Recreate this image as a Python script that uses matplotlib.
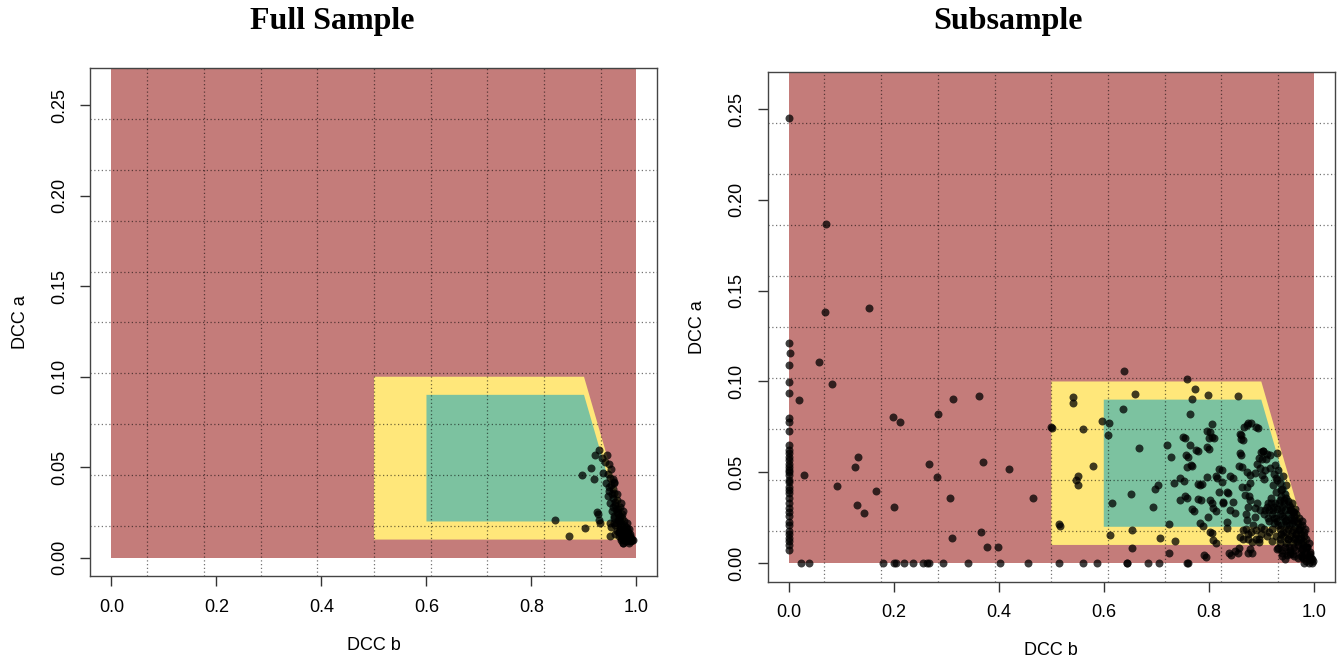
import matplotlib
matplotlib.use("Agg")
import matplotlib.pyplot as plt
from matplotlib.patches import Polygon

# admissible regions for the DCC (b, a) parameters
red_region = [(0.0, 0.0), (1.0, 0.0), (1.0, 0.3), (0.0, 0.3)]
yellow_region = [(0.5, 0.01), (0.99, 0.01), (0.9, 0.1), (0.5, 0.1)]
green_region = [(0.6, 0.02), (0.97, 0.02), (0.9, 0.09), (0.6, 0.09)]

x_ticks = [0.0, 0.2, 0.4, 0.6, 0.8, 1.0]
y_ticks = [0.0, 0.05, 0.10, 0.15, 0.20, 0.25]
x_range = (0.0, 1.0)
y_range = (0.0, 0.26)

# full sample estimates
full_b = [0.921, 0.929, 0.943, 0.948, 0.9135, 0.897, 0.920, 0.937, 0.924, 0.929,
          0.901, 0.872, 0.950, 0.950, 0.8455, 0.955, 0.957, 0.927, 0.931,
          0.945, 0.950, 0.942, 0.952, 0.948, 0.958, 0.946, 0.955, 0.963, 0.950,
          0.960, 0.968, 0.953, 0.962, 0.972, 0.957, 0.966, 0.976, 0.960, 0.970,
          0.980, 0.963, 0.973, 0.983, 0.967, 0.977, 0.986, 0.970, 0.980, 0.990,
          0.975, 0.985, 0.993, 0.988, 0.978, 0.968, 0.958, 0.965, 0.955, 0.973,
          0.982, 0.990, 0.960, 0.952, 0.985, 0.975, 0.970, 0.962, 0.957, 0.981,
          0.987, 0.972, 0.967, 0.979, 0.984, 0.976, 0.969, 0.940, 0.934, 0.951,
          0.947, 0.953, 0.959, 0.956, 0.961, 0.965, 0.958, 0.964, 0.969, 0.962,
          0.968, 0.974, 0.966, 0.972, 0.978, 0.971, 0.976, 0.982, 0.974, 0.980,
          0.986, 0.979, 0.984, 0.991, 0.982, 0.988]
full_a = [0.0568, 0.0595, 0.0568, 0.0518, 0.0494, 0.0457, 0.0433, 0.0466, 0.0254, 0.0208,
          0.0163, 0.0120, 0.0190, 0.0120, 0.0210, 0.0437, 0.0410, 0.0240, 0.0193,
          0.046, 0.044, 0.041, 0.040, 0.037, 0.036, 0.034, 0.033, 0.032, 0.030,
          0.029, 0.028, 0.026, 0.025, 0.024, 0.022, 0.021, 0.020, 0.018, 0.018,
          0.017, 0.015, 0.015, 0.014, 0.012, 0.012, 0.011, 0.010, 0.009, 0.009,
          0.008, 0.008, 0.010, 0.012, 0.010, 0.016, 0.019, 0.027, 0.038, 0.022,
          0.019, 0.011, 0.013, 0.017, 0.016, 0.026, 0.030, 0.035, 0.042, 0.013,
          0.010, 0.012, 0.014, 0.015, 0.012, 0.018, 0.023, 0.053, 0.055, 0.049,
          0.039, 0.035, 0.031, 0.028, 0.027, 0.024, 0.023, 0.021, 0.020, 0.019,
          0.017, 0.016, 0.014, 0.013, 0.013, 0.011, 0.010, 0.010, 0.008, 0.011,
          0.009, 0.014, 0.011, 0.010, 0.016, 0.013]

# subsample: estimates stuck at b = 0
sub_edge_a = [0.121, 0.109, 0.0999, 0.0938, 0.0797, 0.0779, 0.0729, 0.065, 0.0605,
              0.0586, 0.0548, 0.0531, 0.0503, 0.0485, 0.0448, 0.0403, 0.0385, 0.0357,
              0.0302, 0.0284, 0.0228, 0.0209, 0.0179, 0.016, 0.0123, 0.0072, 0.062,
              0.057, 0.051, 0.046, 0.042, 0.033, 0.026, 0.014, 0.010]
# subsample: estimates stuck at a = 0
sub_floor_b = [0.0237, 0.0383, 0.179, 0.2013, 0.204, 0.2187, 0.2375, 0.2556, 0.264,
               0.2667, 0.2946, 0.3405, 0.403, 0.455, 0.514, 0.56, 0.587, 0.6435,
               0.6445, 0.6845, 0.706, 0.7598, 0.982, 0.990, 0.996]
# subsample: interior estimates
sub_b = [0.0, 0.0711, 0.069, 0.152, 0.058, 0.0825, 0.0196, 0.0025, 0.0285, 0.0926,
         0.1257, 0.131, 0.1295, 0.1434, 0.167, 0.198, 0.2126, 0.2006, 0.2844, 0.3124,
         0.363, 0.4996, 0.2678, 0.3695, 0.419, 0.282, 0.3072, 0.466, 0.3657, 0.3105,
         0.3777, 0.3993, 0.514,
         0.639, 0.758, 0.7745, 0.798, 0.855, 0.6587, 0.5415, 0.5415, 0.768, 0.6368,
         0.7648, 0.5015, 0.5613, 0.5968, 0.6097, 0.6078, 0.6663, 0.579, 0.551, 0.5473,
         0.5518, 0.5158, 0.6149, 0.6528, 0.6933, 0.611, 0.6547, 0.6547, 0.7069, 0.7364,
         0.7242, 0.7943, 0.8067, 0.813, 0.842, 0.856, 0.882, 0.8646, 0.8825, 0.8947,
         0.725, 0.704, 0.697, 0.733, 0.7198, 0.7288, 0.755, 0.7602, 0.780, 0.800,
         0.768, 0.753, 0.7448, 0.7583, 0.7712, 0.785, 0.7886, 0.8067, 0.814, 0.800,
         0.8015, 0.809, 0.807, 0.784, 0.7957, 0.816, 0.8253, 0.8375, 0.8265, 0.8497,
         0.8356, 0.8356, 0.847, 0.862, 0.865, 0.862, 0.863, 0.872, 0.8806, 0.8935,
         0.8787, 0.872, 0.877, 0.871, 0.888, 0.904, 0.910, 0.901, 0.8967, 0.905,
         0.796, 0.8057, 0.7516, 0.867, 0.8755, 0.890, 0.8597, 0.861, 0.7568, 0.7758,
         0.7657, 0.796, 0.860, 0.8583, 0.8996, 0.904, 0.8952, 0.8926, 0.9092, 0.9168,
         0.9295, 0.9263, 0.9168, 0.9073, 0.901, 0.888, 0.8787, 0.8724, 0.8629, 0.8692,
         0.8787, 0.8754, 0.8914, 0.8977, 0.8882, 0.8724, 0.8659, 0.8469, 0.8406, 0.8278,
         0.8202, 0.8343, 0.8248, 0.8088, 0.7993, 0.7834, 0.7676, 0.7549, 0.7802, 0.8025,
         0.780, 0.7867, 0.8139, 0.8202, 0.8406, 0.7581, 0.7453, 0.7644, 0.8025, 0.8088,
         0.8597, 0.8755, 0.890, 0.8583, 0.8787, 0.8755, 0.850, 0.8393, 0.791, 0.7593,
         0.9326, 0.939, 0.9486]
sub_a = [0.2449, 0.1867, 0.138, 0.1403, 0.1107, 0.0984, 0.0898, 0.1159, 0.0483, 0.0426,
         0.0529, 0.0586, 0.032, 0.0274, 0.0397, 0.0803, 0.0779, 0.0309, 0.0819, 0.0904,
         0.092, 0.0751, 0.0546, 0.0557, 0.0518, 0.0472, 0.0358, 0.0358, 0.0171, 0.0136,
         0.009, 0.009, 0.0215,
         0.1057, 0.1016, 0.0959, 0.0925, 0.092, 0.093, 0.0914, 0.0884, 0.0901, 0.0849,
         0.0821, 0.0746, 0.0739, 0.078, 0.0769, 0.0705, 0.0635, 0.0532, 0.048, 0.046,
         0.0428, 0.0205, 0.033, 0.0378, 0.0307, 0.0156, 0.0183, 0.0082, 0.0136, 0.0123,
         0.0055, 0.0034, 0.0164, 0.0112, 0.0043, 0.0058, 0.0056, 0.0133, 0.0117, 0.0117,
         0.0213, 0.043, 0.041, 0.044, 0.0653, 0.0583, 0.0687, 0.0584, 0.0618, 0.0629,
         0.0532, 0.0452, 0.035, 0.036, 0.0287, 0.0346, 0.0207, 0.0331, 0.0287, 0.069,
         0.0724, 0.0687, 0.0767, 0.043, 0.0476, 0.0467, 0.051, 0.0384, 0.0337, 0.0278,
         0.0225, 0.0194, 0.0469, 0.0705, 0.0676, 0.0594, 0.0527, 0.0758, 0.0774, 0.0746,
         0.0486, 0.0417, 0.0367, 0.027, 0.0306, 0.0616, 0.0601, 0.0572, 0.0523, 0.0464,
         0.0729, 0.0696, 0.0696, 0.0751, 0.0773, 0.0751, 0.0711, 0.0682, 0.0595, 0.0623,
         0.054, 0.0638, 0.0605, 0.0535, 0.0612, 0.0619, 0.0577, 0.0546, 0.0572, 0.0595,
         0.0605, 0.054, 0.0522, 0.0513, 0.0485, 0.0494, 0.0439, 0.0503, 0.0421, 0.0375,
         0.0347, 0.0311, 0.0333, 0.0292, 0.0256, 0.0237, 0.0182, 0.0338, 0.0292, 0.0329,
         0.0393, 0.0393, 0.0448, 0.0302, 0.0256, 0.0219, 0.0296, 0.0369, 0.0351, 0.0347,
         0.0436, 0.0436, 0.048, 0.0517, 0.048, 0.0531, 0.0467, 0.065, 0.0173, 0.0127,
         0.0142, 0.0131, 0.0131, 0.0081, 0.0076, 0.0054, 0.0068, 0.0057, 0.0045, 0.0002,
         0.0081, 0.0054, 0.0045]
# subsample: dense cluster near b + a = 1
cluster_b = [0.925, 0.930, 0.935, 0.922, 0.940, 0.928, 0.945, 0.918, 0.935, 0.950,
             0.910, 0.925, 0.940, 0.955, 0.965, 0.905, 0.920, 0.935, 0.950, 0.962,
             0.972, 0.915, 0.930, 0.945, 0.958, 0.970, 0.978, 0.900, 0.920, 0.935,
             0.950, 0.960, 0.972, 0.982, 0.928, 0.942, 0.955, 0.965, 0.975, 0.985,
             0.935, 0.948, 0.960, 0.970, 0.980, 0.988, 0.940, 0.955, 0.965, 0.975,
             0.985, 0.992, 0.970, 0.980, 0.990, 0.996, 0.985, 0.998,
             0.945, 0.958, 0.965, 0.975, 0.968, 0.978, 0.952, 0.940, 0.930, 0.960,
             0.950, 0.990, 0.962, 0.948, 0.938, 0.925, 0.915, 0.972, 0.980, 0.955,
             0.870, 0.880, 0.890, 0.900, 0.910, 0.885, 0.875, 0.895, 0.905, 0.915,
             0.920, 0.930, 0.940, 0.945,
             0.932, 0.942, 0.928, 0.938, 0.948, 0.958, 0.944, 0.954, 0.912, 0.926,
             0.968, 0.957, 0.947, 0.937, 0.976, 0.966, 0.986, 0.978, 0.962, 0.952,
             0.918, 0.933, 0.943, 0.953, 0.963, 0.908, 0.923, 0.938, 0.957, 0.967,
             0.977, 0.913, 0.928, 0.943, 0.962, 0.973, 0.983, 0.932, 0.947, 0.967,
             0.981, 0.991, 0.942, 0.958, 0.972, 0.987, 0.950, 0.963, 0.977, 0.993,
             0.960, 0.975, 0.983, 0.994, 0.935, 0.945, 0.925, 0.952, 0.938, 0.948]
cluster_a = [0.049, 0.046, 0.044, 0.043, 0.041, 0.039, 0.038, 0.036, 0.035, 0.034,
             0.031, 0.031, 0.031, 0.031, 0.030, 0.027, 0.027, 0.027, 0.027, 0.026,
             0.025, 0.023, 0.023, 0.023, 0.022, 0.022, 0.021, 0.020, 0.019, 0.019,
             0.019, 0.018, 0.018, 0.017, 0.015, 0.015, 0.015, 0.014, 0.014, 0.013,
             0.011, 0.011, 0.011, 0.010, 0.010, 0.009, 0.007, 0.007, 0.007, 0.006,
             0.006, 0.005, 0.003, 0.003, 0.002, 0.002, 0.001, 0.001,
             0.029, 0.024, 0.020, 0.016, 0.012, 0.008, 0.021, 0.026, 0.030, 0.028,
             0.013, 0.004, 0.009, 0.017, 0.021, 0.025, 0.029, 0.019, 0.012, 0.005,
             0.019, 0.017, 0.018, 0.016, 0.015, 0.021, 0.016, 0.013, 0.019, 0.017,
             0.012, 0.008, 0.004, 0.002,
             0.051, 0.048, 0.047, 0.040, 0.036, 0.033, 0.033, 0.029, 0.033, 0.033,
             0.023, 0.025, 0.024, 0.016, 0.011, 0.016, 0.009, 0.004, 0.004, 0.009,
             0.033, 0.033, 0.035, 0.032, 0.028, 0.029, 0.029, 0.029, 0.029, 0.027,
             0.023, 0.025, 0.025, 0.025, 0.024, 0.020, 0.019, 0.021, 0.021, 0.016,
             0.015, 0.011, 0.017, 0.017, 0.013, 0.009, 0.013, 0.013, 0.008, 0.006,
             0.005, 0.004, 0.005, 0.003, 0.013, 0.009, 0.022, 0.006, 0.037, 0.043]

plt.rcParams["font.family"] = ["Liberation Sans", "DejaVu Sans"]

fig = plt.figure(figsize=(13.38, 6.64), dpi=100)
ax_full = fig.add_axes([0.0676, 0.1318, 0.4238, 0.7651])
ax_sub = fig.add_axes([0.5738, 0.1235, 0.4238, 0.7681])


def draw_panel(ax, b, a):
    pad_x = 0.04 * (x_range[1] - x_range[0])
    pad_y = 0.04 * (y_range[1] - y_range[0])
    x0, x1 = x_range[0] - pad_x, x_range[1] + pad_x
    y0, y1 = y_range[0] - pad_y, y_range[1] + pad_y
    ax.set_xlim(x0, x1)
    ax.set_ylim(y0, y1)

    ax.add_patch(Polygon(red_region, closed=True, facecolor="#C47C7A", edgecolor="none", zorder=1))
    ax.add_patch(Polygon(yellow_region, closed=True, facecolor="#FFE77A", edgecolor="none", zorder=1))
    ax.add_patch(Polygon(green_region, closed=True, facecolor="#7CC2A0", edgecolor="none", zorder=1))

    # 10 x 10 dotted grid over the plotting region
    for k in range(1, 10):
        ax.axvline(x0 + k * (x1 - x0) / 10, color="black", alpha=0.55, lw=0.9,
                   linestyle=(0, (1, 2)), zorder=2)
        ax.axhline(y0 + k * (y1 - y0) / 10, color="black", alpha=0.55, lw=0.9,
                   linestyle=(0, (1, 2)), zorder=2)

    ax.scatter(b, a, s=33, color="black", alpha=0.75, linewidths=0, zorder=3)

    ax.set_xticks(x_ticks)
    ax.set_xticklabels(["%.1f" % v for v in x_ticks])
    ax.set_yticks(y_ticks)
    ax.set_yticklabels(["%.2f" % v for v in y_ticks], rotation=90, va="center")
    ax.tick_params(direction="out", length=7, width=1, color="#333333",
                   labelsize=13, pad=9)
    for sp in ax.spines.values():
        sp.set_color("#444444")
        sp.set_linewidth(1)

    ax.text(0.5, -0.135, "DCC b", transform=ax.transAxes, ha="center", va="center",
            fontsize=13)
    ax.text(-0.124, 0.5, "DCC a", transform=ax.transAxes, ha="center", va="center",
            rotation=90, fontsize=13)


draw_panel(ax_full, full_b, full_a)
draw_panel(ax_sub,
           [0.0] * len(sub_edge_a) + sub_floor_b + sub_b + cluster_b,
           sub_edge_a + [0.0] * len(sub_floor_b) + sub_a + cluster_a)

fig.text(332 / 1338, 1 - 22 / 664, "Full Sample", ha="center", va="center",
         fontsize=23, fontweight="bold", family="Liberation Serif")
fig.text(1008 / 1338, 1 - 22 / 664, "Subsample", ha="center", va="center",
         fontsize=23, fontweight="bold", family="Liberation Serif")

fig.savefig("out.png", dpi=100)
